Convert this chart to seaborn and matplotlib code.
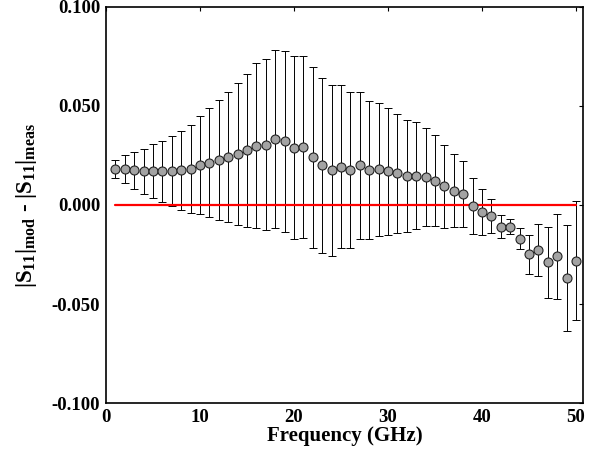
import numpy as np
import pandas as pd
import matplotlib
matplotlib.use("Agg")
import matplotlib.pyplot as plt
import seaborn as sns

# Frequency points (GHz) and model-minus-measurement difference with error
freq = list(range(1, 51))
diff = [0.0181, 0.0181, 0.0176, 0.0171, 0.0171, 0.0171, 0.0171, 0.0176, 0.0183, 0.0200,
        0.0212, 0.0228, 0.0242, 0.0258, 0.0275, 0.0299, 0.0305, 0.0332, 0.0322, 0.0289,
        0.0292, 0.0240, 0.0200, 0.0174, 0.0194, 0.0176, 0.0200, 0.0176, 0.0181, 0.0170,
        0.0159, 0.0147, 0.0148, 0.0141, 0.0123, 0.0094, 0.0072, 0.0055, -0.0004, -0.0034,
        -0.0057, -0.0109, -0.0109, -0.0171, -0.0249, -0.0225, -0.0289, -0.0259, -0.0370, -0.0281]
err = [0.0047, 0.0070, 0.0093, 0.0114, 0.0136, 0.0154, 0.0177, 0.0199, 0.0222, 0.0248,
       0.0275, 0.0302, 0.0329, 0.0360, 0.0387, 0.0415, 0.0433, 0.0449, 0.0457, 0.0462,
       0.0459, 0.0456, 0.0443, 0.0429, 0.0410, 0.0392, 0.0371, 0.0350, 0.0336, 0.0319,
       0.0300, 0.0284, 0.0270, 0.0248, 0.0228, 0.0211, 0.0185, 0.0168, 0.0142, 0.0116,
       0.0085, 0.0057, 0.0038, 0.0053, 0.0098, 0.0131, 0.0178, 0.0214, 0.0267, 0.0300]
ref_x = [1, 50]
ref_y = [0.0, 0.0]
xticks = [0, 10, 20, 30, 40, 50]
yticks = [-0.100, -0.050, 0.000, 0.050, 0.100]

df = pd.DataFrame({"freq": freq, "diff": diff, "err": err})
ref = pd.DataFrame({"x": ref_x, "y": ref_y})

sns.set_style("white")
plt.rcParams["font.family"] = ["Liberation Serif", "DejaVu Serif"]
plt.rcParams["font.weight"] = "bold"
plt.rcParams["text.color"] = "black"
plt.rcParams["axes.labelcolor"] = "black"
plt.rcParams["mathtext.fontset"] = "custom"
plt.rcParams["mathtext.rm"] = "Liberation Serif:bold"
plt.rcParams["mathtext.bf"] = "Liberation Serif:bold"
plt.rcParams["mathtext.it"] = "Liberation Serif:bold"

fig = plt.figure(figsize=(5.95, 4.55), dpi=100)
ax = fig.add_axes([0.178, 0.114, 0.802, 0.871])

ax.errorbar(df["freq"], df["diff"], yerr=df["err"], fmt="none",
            ecolor="black", elinewidth=0.7, capsize=3, capthick=0.7, zorder=2)
sns.lineplot(data=ref, x="x", y="y", color="red", linewidth=1.6, ax=ax, zorder=3)
sns.scatterplot(data=df, x="freq", y="diff", s=42, color="#a3a3a3",
                edgecolor="#222222", linewidth=0.8, ax=ax, zorder=4)

ax.set_xlim(0, 50.75)
ax.set_ylim(-0.1, 0.1)
ax.set_xticks(xticks)
ax.set_yticks(yticks)
ax.set_yticklabels([f"{v:.3f}" for v in yticks])
ax.tick_params(direction="in", length=3, width=0.8, top=True, right=True,
               labelsize=13.5, pad=4, colors="black")
for lab in ax.get_xticklabels() + ax.get_yticklabels():
    lab.set_fontweight("bold")
for sp in ax.spines.values():
    sp.set_color("black")
    sp.set_linewidth(1.2)

ax.set_xlabel("Frequency (GHz)", fontsize=15, fontweight="bold", labelpad=0,
              color="black")
ax.set_ylabel(r"$|S_{11}|_{mod}$ - $|S_{11}|_{meas}$", fontsize=16.5,
              fontweight="bold", labelpad=9, color="black")

plt.savefig("out.png", dpi=100)
